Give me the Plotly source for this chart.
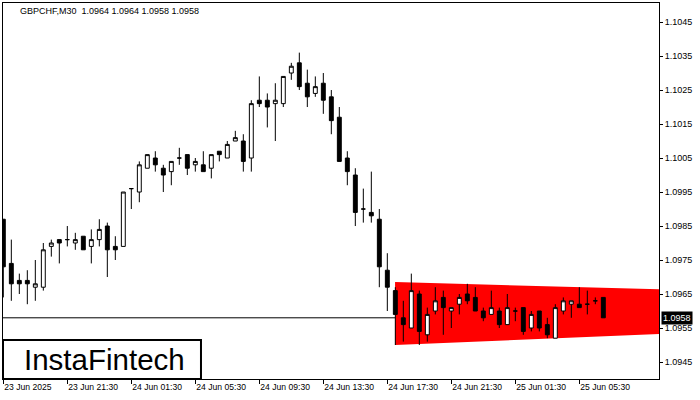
import pandas as pd
import plotly.graph_objects as go

# ---------------- data ----------------
symbol = "GBPCHF"
timeframe = "M30"
first_bar = "2025-06-23 17:30"

open_prices = [
    1.0987, 1.0974, 1.0969, 1.0969, 1.0967, 1.0967, 1.0979, 1.0981, 1.0981, 1.0980,
    1.0982, 1.0979, 1.0981, 1.0985, 1.0979, 1.0979, 1.0996, 1.0995, 1.1002, 1.1005,
    1.1002, 1.1001, 1.1005, 1.1006, 1.1003, 1.1003, 1.1002, 1.1007, 1.1005, 1.1010,
    1.1010, 1.1005, 1.1022, 1.1022, 1.1021, 1.1021, 1.1030, 1.1033, 1.1027, 1.1024,
    1.1027, 1.1023, 1.1017, 1.1005, 1.1000, 1.0990, 1.0989, 1.0987, 1.0972, 1.0966,
    1.0958, 1.0955, 1.0965, 1.0953, 1.0960, 1.0964, 1.0960, 1.0962, 1.0965, 1.0964,
    1.0960, 1.0959, 1.0960, 1.0956, 1.0960, 1.0961, 1.0955, 1.0960, 1.0956, 1.0952,
    1.0960, 1.0962, 1.0962, 1.0962, 1.0963, 1.0964,
]
high_prices = [
    1.0987, 1.0981, 1.0971, 1.0972, 1.0975, 1.0980, 1.0981, 1.0981, 1.0985, 1.0983,
    1.0982, 1.0984, 1.0987, 1.0986, 1.0982, 1.0995, 1.0996, 1.1004, 1.1006, 1.1007,
    1.1003, 1.1004, 1.1008, 1.1006, 1.1005, 1.1007, 1.1006, 1.1007, 1.1010, 1.1013,
    1.1012, 1.1022, 1.1029, 1.1024, 1.1027, 1.1029, 1.1033, 1.1036, 1.1031, 1.1029,
    1.1030, 1.1025, 1.1020, 1.1007, 1.1002, 1.0996, 1.1001, 1.0990, 1.0977, 1.0967,
    1.0963, 1.0971, 1.0966, 1.0961, 1.0967, 1.0966, 1.0961, 1.0965, 1.0968, 1.0967,
    1.0961, 1.0966, 1.0961, 1.0965, 1.0961, 1.0961, 1.0960, 1.0960, 1.0958, 1.0962,
    1.0964, 1.0963, 1.0967, 1.0966, 1.0964, 1.0964,
]
low_prices = [
    1.0964, 1.0963, 1.0965, 1.0962, 1.0963, 1.0966, 1.0976, 1.0974, 1.0979, 1.0978,
    1.0978, 1.0974, 1.0979, 1.0970, 1.0975, 1.0979, 1.0990, 1.0992, 1.1002, 1.1001,
    1.0995, 1.0997, 1.1003, 1.1000, 1.1001, 1.1001, 1.0999, 1.1004, 1.1005, 1.1010,
    1.1001, 1.1001, 1.1020, 1.1014, 1.1010, 1.1020, 1.1028, 1.1025, 1.1020, 1.1023,
    1.1018, 1.1012, 1.1004, 1.0997, 1.0985, 1.0986, 1.0986, 1.0967, 1.0960, 1.0950,
    1.0951, 1.0955, 1.0950, 1.0951, 1.0959, 1.0953, 1.0955, 1.0959, 1.0962, 1.0960,
    1.0957, 1.0959, 1.0955, 1.0956, 1.0957, 1.0953, 1.0954, 1.0954, 1.0952, 1.0952,
    1.0959, 1.0958, 1.0961, 1.0959, 1.0962, 1.0958,
]
close_prices = [
    1.0973, 1.0968, 1.0968, 1.0968, 1.0968, 1.0978, 1.0980, 1.0980, 1.0981, 1.0981,
    1.0978, 1.0981, 1.0984, 1.0978, 1.0978, 1.0995, 1.0996, 1.1003, 1.1006, 1.1003,
    1.1000, 1.1004, 1.1005, 1.1002, 1.1004, 1.1001, 1.1006, 1.1006, 1.1009, 1.1011,
    1.1004, 1.1021, 1.1021, 1.1020, 1.1022, 1.1029, 1.1032, 1.1026, 1.1023, 1.1026,
    1.1022, 1.1016, 1.1004, 1.1001, 1.0989, 1.0990, 1.0988, 1.0973, 1.0967, 1.0959,
    1.0956, 1.0966, 1.0954, 1.0959, 1.0963, 1.0961, 1.0961, 1.0964, 1.0963, 1.0960,
    1.0958, 1.0961, 1.0956, 1.0961, 1.0960, 1.0954, 1.0959, 1.0955, 1.0953, 1.0961,
    1.0963, 1.0963, 1.0961, 1.0962, 1.0963, 1.0958,
]

tick_labels = [
    "23 Jun 2025", "23 Jun 21:30", "24 Jun 01:30", "24 Jun 05:30", "24 Jun 09:30",
    "24 Jun 13:30", "24 Jun 17:30", "24 Jun 21:30", "25 Jun 01:30", "25 Jun 05:30",
]
price_ticks = [1.0945, 1.0955, 1.0965, 1.0975, 1.0985, 1.0995, 1.1005, 1.1015,
               1.1025, 1.1035, 1.1045]

# pattern (red converging band)
pattern_times = ["2025-06-24 17:59", "2025-06-25 11:00"]
pattern_top = [1.09685, 1.09663]
pattern_bottom = [1.09500, 1.09533]

brand = "InstaFintech"

# ---------------- figure ----------------
bar_times = pd.date_range(first_bar, periods=len(open_prices), freq="30min")
step = pd.Timedelta(minutes=30)
x_range = [bar_times[0] - 0.04 * step, bar_times[0] + 81.96 * step]
tick_times = list(bar_times[::8][:len(tick_labels)])
last_close = close_prices[-1]

FONT = "Liberation Sans, Arial, sans-serif"


def to_ms(t):
    return pd.Timestamp(t).value // 10**6


fig = go.Figure()

fig.add_trace(go.Candlestick(
    x=bar_times, open=open_prices, high=high_prices, low=low_prices, close=close_prices,
    increasing=dict(line=dict(color="black", width=1), fillcolor="white"),
    decreasing=dict(line=dict(color="black", width=1), fillcolor="black"),
    whiskerwidth=0, showlegend=False,
))

# red pattern (below the candles)
px0, px1 = to_ms(pattern_times[0]), to_ms(pattern_times[1])
pattern_path = (f"M {px0},{pattern_top[0]} L {px1},{pattern_top[1]} "
                f"L {px1},{pattern_bottom[1]} L {px0},{pattern_bottom[0]} Z")
fig.add_shape(type="path", xref="x", yref="y", path=pattern_path,
              fillcolor="#FF0000", line=dict(width=0), layer="below")

# bid line
fig.add_shape(type="line", xref="paper", yref="y", x0=0, x1=1, y0=last_close, y1=last_close,
              line=dict(color="black", width=1), layer="below")

title_text = (f"{symbol},{timeframe}\u00a0 {open_prices[-1]:.4f} {high_prices[-1]:.4f} "
              f"{low_prices[-1]:.4f} {close_prices[-1]:.4f}")

fig.update_layout(
    width=700, height=400,
    margin=dict(l=3, r=41, t=3, b=21, autoexpand=False),
    paper_bgcolor="white", plot_bgcolor="white",
    font=dict(family=FONT, size=9, color="black"),
    showlegend=False,
    xaxis=dict(
        type="date", range=x_range, rangeslider=dict(visible=False),
        showgrid=False, zeroline=False,
        showline=True, mirror=True, linecolor="black", linewidth=1,
        tickmode="array", tickvals=tick_times, ticktext=tick_labels,
        ticks="outside", ticklen=4, tickcolor="black", tickwidth=1,
        ticklabelposition="outside right",
        tickfont=dict(family=FONT, size=8.6, color="black"),
    ),
    yaxis=dict(
        side="right", range=[1.0940, 1.10506],
        showgrid=False, zeroline=False,
        showline=True, mirror=True, linecolor="black", linewidth=1,
        tickmode="array", tickvals=price_ticks,
        ticktext=[f"{v:.4f}" for v in price_ticks],
        ticks="outside", ticklen=3, tickcolor="black", tickwidth=1,
        tickfont=dict(family=FONT, size=9, color="black"),
    ),
)

# header text
fig.add_annotation(
    xref="paper", yref="paper", x=0.0229, y=0.979, xanchor="left", yanchor="middle",
    text=title_text, showarrow=False,
    font=dict(family=FONT, size=9, color="black"),
)

# current price tag
fig.add_annotation(
    xref="paper", yref="y", x=1, y=last_close, xanchor="left", yanchor="middle",
    xshift=2, text=f"{last_close:.4f}", showarrow=False,
    bgcolor="black", font=dict(family=FONT, size=9, color="white"), borderpad=1,
)

# logo box
fig.add_shape(type="rect", xref="paper", yref="paper", x0=0, x1=0.3018, y0=0, y1=0.1037,
              line=dict(color="black", width=2), fillcolor="white", layer="above")
fig.add_annotation(
    xref="paper", yref="paper", x=0.154, y=0.052, xanchor="center", yanchor="middle",
    text=brand, showarrow=False,
    font=dict(family=FONT, size=29.5, color="black"),
)

fig.write_html(
    "out.html",
    config={"displayModeBar": False},
    post_script="document.body.style.margin='0';document.body.style.overflow='hidden';",
)
